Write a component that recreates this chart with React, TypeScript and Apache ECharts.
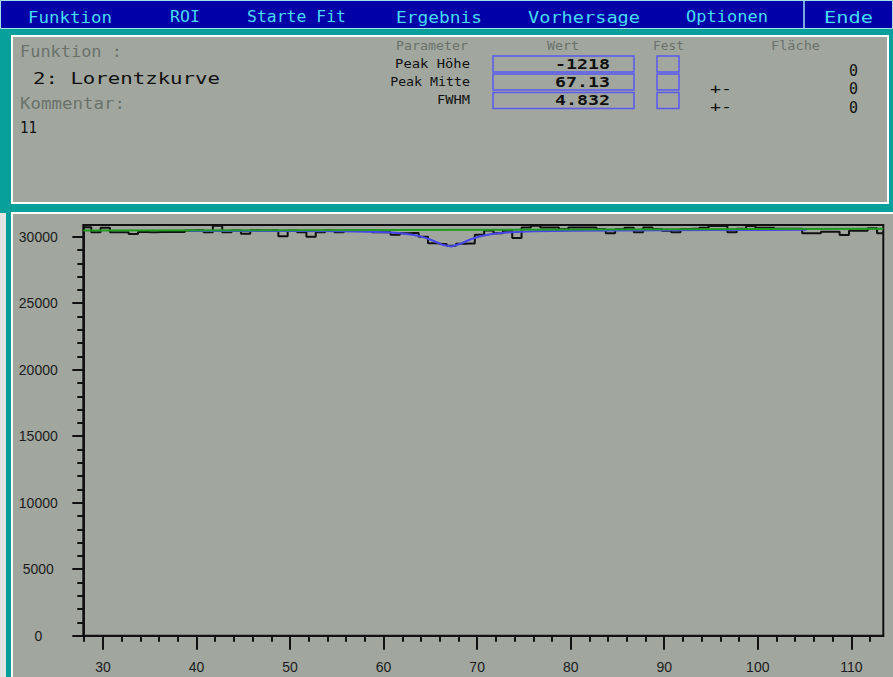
import React, { useEffect, useRef } from "react";
import * as echarts from "echarts";

// ---- spectrum data -------------------------------------------------------
// counts per channel, starting at channel 28
const firstChannel = 28;
const channelCounts = [
  30720, 30330, 30680, 30330, 30330, 30200, 30350, 30340, 30355, 30345, // 28-37
  30350, 30470, 30480, 30340, 30820, 30330, 30470, 30220, 30480, 30460, // 38-47
  30490, 30030, 30470, 30330, 30000, 30330, 30480, 30330, 30470, 30490, // 48-57
  30460, 30330, 30330, 30140, 30260, 30280, 30000, 29500, 29450, 29320, // 58-67
  29470, 29480, 30140, 30460, 30260, 30450, 29900, 30690, 30830, 30690, // 68-77
  30690, 30560, 30700, 30700, 30690, 30560, 30260, 30560, 30680, 30340, // 78-87
  30690, 30570, 30450, 30330, 30580, 30590, 30680, 30810, 30800, 30330, // 88-97
  30590, 30800, 30680, 30680, 30590, 30600, 30600, 30260, 30260, 30380, // 98-107
  30380, 30130, 30450, 30450, 30630, 30260, // 108-113
];
// channel centres sit a quarter channel to the right of the integer
const binOffset = 0.25;

// Lorentz fit over the ROI (fit background + peak)
const fitChannels = [
  39, 45, 50, 55, 58, 59, 60, 61, 62, 63, 64, 65, 66, 67, 68, 69, 70, 71, 72,
  73, 74, 75, 76, 78, 80, 85, 90, 95, 100, 105,
];
const fitCounts = [
  30431, 30432, 30429, 30411, 30379, 30359, 30331, 30290, 30228, 30129, 29967,
  29712, 29398, 29259, 29472, 29788, 30020, 30166, 30258, 30317, 30356, 30384,
  30404, 30432, 30449, 30474, 30488, 30498, 30506, 30514,
];

// linear background across the whole range (left, right)
const backgroundCounts = [30460, 30590];

// fit parameters
const paramNames = ["Peak Höhe", "Peak Mitte", "FWHM"];
const paramValues = ["-1218", "67.13", "4.832"];
const areaValues = ["0", "0", "0"];

// axis ticks
const xMajorTicks = [30, 40, 50, 60, 70, 80, 90, 100, 110];
const xMinorTicks = [
  28, 32, 34, 36, 38, 42, 44, 46, 48, 52, 54, 56, 58, 62, 64, 66, 68, 72, 74,
  76, 78, 82, 84, 86, 88, 92, 94, 96, 98, 102, 104, 106, 108, 112,
];
const yMajorTicks = [0, 5000, 10000, 15000, 20000, 25000, 30000];
const yMinorTicks = [
  1000, 2000, 3000, 4000, 6000, 7000, 8000, 9000, 11000, 12000, 13000, 14000,
  16000, 17000, 18000, 19000, 21000, 22000, 23000, 24000, 26000, 27000, 28000,
  29000,
];

const menuItems = ["Funktion", "ROI", "Starte Fit", "Ergebnis", "Vorhersage", "Optionen", "Ende"];

// ---- layout & style --------------------------------------------------------
const W = 893;
const H = 677;
const X_MIN = 27.9;
const X_MAX = 113.42;
const Y_MAX = 30880;
const TEAL = "#07a09b";
const GREY = "#a1a79f";
const MENU_BLUE = "#0000a8";
const MENU_TEXT = "#48dcf4";
const DIM_TEXT = "#6b726b";
const INK = "#101010";
const BOX_BLUE = "#5a5af0";
const MONO = '"DejaVu Sans Mono", "Liberation Mono", monospace';
const SANS = '"Liberation Sans", Arial, sans-serif';

const menuSpans = [
  [28, 112], [170, 200], [247, 346], [396, 482], [528, 640], [686, 768], [824, 873],
];

type TextOpts = { color?: string; align?: string; weight?: string };

// monospace text stretched horizontally to a given width
function monoText(text: string, x: number, y: number, size: number, width: number | null, opts: TextOpts = {}) {
  const natural = text.length * 0.602 * size;
  return {
    type: "text",
    x,
    y,
    silent: true,
    scaleX: width ? width / natural : 1,
    style: {
      text,
      fontFamily: MONO,
      fontSize: size,
      fontWeight: opts.weight || "normal",
      fill: opts.color || INK,
      align: opts.align || "left",
      verticalAlign: "middle",
    },
  };
}

function buildGraphic() {
  const els: any[] = [];
  // frame
  els.push({ type: "rect", silent: true, shape: { x: 0, y: 29, width: W, height: 184 }, style: { fill: TEAL } });
  els.push({ type: "rect", silent: true, shape: { x: 0, y: 213, width: 11, height: H - 213 }, style: { fill: TEAL } });
  els.push({ type: "rect", silent: true, shape: { x: 0, y: 213, width: 6, height: H - 213 }, style: { fill: "#e2e6e2" } });
  els.push({
    type: "rect", silent: true,
    shape: { x: 12, y: 36, width: 876, height: 167 },
    style: { fill: GREY, stroke: "#ffffff", lineWidth: 2 },
  });
  els.push({
    type: "polyline", silent: true,
    shape: { points: [[12, H], [12, 213], [W, 213]] },
    style: { stroke: "#ffffff", lineWidth: 2, fill: "none" },
  });

  // menu bar
  els.push({
    type: "rect", silent: true,
    shape: { x: 0.5, y: 0.5, width: W - 1, height: 28 },
    style: { fill: MENU_BLUE, stroke: "#9fe2ec", lineWidth: 1 },
  });
  els.push({
    type: "line", silent: true,
    shape: { x1: 804, y1: 1, x2: 804, y2: 28 },
    style: { stroke: "#9fe2ec", lineWidth: 1.5 },
  });
  menuItems.forEach((m, i) => {
    const [a, b] = menuSpans[i];
    els.push(monoText(m, a, 17, 16, b - a, { color: MENU_TEXT }));
  });

  // function / comment block
  els.push(monoText("Funktion :", 20, 52, 16, 102, { color: DIM_TEXT }));
  els.push(monoText("2: Lorentzkurve", 33, 78, 16, 187));
  els.push(monoText("Kommentar:", 20, 103, 16, 105, { color: DIM_TEXT }));
  els.push(monoText("11", 20, 128, 16, 17));

  // parameter table headers
  els.push(monoText("Parameter", 396, 45.5, 12.5, 72, { color: DIM_TEXT }));
  els.push(monoText("Wert", 547, 45.5, 12.5, 32, { color: DIM_TEXT }));
  els.push(monoText("Fest", 653, 45.5, 12.5, 31, { color: DIM_TEXT }));
  els.push(monoText("Fläche", 771, 45.5, 12.5, 49, { color: DIM_TEXT }));

  const rowY = [63.5, 81.5, 100];
  const nameW = [75, 80, 33];
  paramNames.forEach((n, i) => {
    els.push(monoText(n, 470, rowY[i], 12.5, nameW[i], { align: "right" }));
    els.push({
      type: "rect", silent: true,
      shape: { x: 493, y: rowY[i] - 7.5, width: 141, height: 16 },
      style: { fill: "none", stroke: BOX_BLUE, lineWidth: 1.5 },
    });
    els.push({
      type: "rect", silent: true,
      shape: { x: 657, y: rowY[i] - 7.5, width: 22, height: 16 },
      style: { fill: "none", stroke: BOX_BLUE, lineWidth: 1.5 },
    });
    els.push(monoText(paramValues[i], 610, rowY[i] + 0.5, 14, paramValues[i].length * 11, { align: "right", weight: "bold" }));
  });
  const errY = [71, 89, 107.5];
  areaValues.forEach((v, i) => {
    els.push(monoText(v, 849, errY[i], 15, 9));
    if (i > 0) els.push(monoText("+-", 710, errY[i], 14, 22));
  });
  return els;
}

function buildOption() {
  const histogram: number[][] = channelCounts.map((v, i) => [firstChannel + i + binOffset, v]);
  histogram.unshift([X_MIN, channelCounts[0]]);
  histogram.push([X_MAX, channelCounts[channelCounts.length - 1]]);
  const fit = fitChannels.map((c, i) => [c + binOffset, fitCounts[i]]);
  const background = [[X_MIN, backgroundCounts[0]], [X_MAX, backgroundCounts[1]]];

  const axisInk = { color: "#111", width: 2 };
  const labelStyle = { fontFamily: SANS, fontSize: 14, color: "#1c1c1c" };

  return {
    animation: false,
    backgroundColor: GREY,
    graphic: { elements: buildGraphic() },
    grid: {
      left: 83.3,
      top: 225,
      width: 800,
      height: 410.7,
      show: true,
      borderColor: "#111",
      borderWidth: 2,
      backgroundColor: "transparent",
    },
    xAxis: [
      {
        type: "value",
        min: X_MIN,
        max: X_MAX,
        position: "bottom",
        axisLine: { show: true, onZero: false, lineStyle: axisInk },
        axisTick: { show: true, customValues: xMajorTicks, length: 14, lineStyle: axisInk },
        axisLabel: { customValues: xMajorTicks, margin: 24, formatter: (v: number) => String(v), ...labelStyle },
        splitLine: { show: false },
      },
      {
        type: "value",
        min: X_MIN,
        max: X_MAX,
        position: "bottom",
        axisLine: { show: false, onZero: false },
        axisTick: { show: true, customValues: xMinorTicks, length: 6, lineStyle: axisInk },
        axisLabel: { show: false },
        splitLine: { show: false },
      },
    ],
    yAxis: [
      {
        type: "value",
        min: 0,
        max: Y_MAX,
        position: "left",
        axisLine: { show: true, onZero: false, lineStyle: axisInk },
        axisTick: { show: true, customValues: yMajorTicks, length: 11, lineStyle: axisInk },
        axisLabel: {
          customValues: yMajorTicks,
          margin: 45,
          align: "center",
          formatter: (v: number) => String(v),
          ...labelStyle,
        },
        splitLine: { show: false },
      },
      {
        type: "value",
        min: 0,
        max: Y_MAX,
        position: "left",
        axisLine: { show: false, onZero: false },
        axisTick: { show: true, customValues: yMinorTicks, length: 6, lineStyle: axisInk },
        axisLabel: { show: false },
        splitLine: { show: false },
      },
    ],
    series: [
      {
        name: "Spektrum",
        type: "line",
        step: "middle",
        data: histogram,
        symbol: "none",
        z: 2,
        lineStyle: { color: "#111", width: 2 },
      },
      {
        name: "Fit",
        type: "line",
        data: fit,
        symbol: "none",
        z: 3,
        lineStyle: { color: "#4646ec", width: 2 },
      },
      {
        name: "Untergrund",
        type: "line",
        data: background,
        symbol: "none",
        z: 4,
        lineStyle: { color: "#1f9c1f", width: 2 },
      },
    ],
  };
}

export default function App() {
  const ref = useRef<HTMLDivElement>(null);
  useEffect(() => {
    if (!ref.current) return;
    const chart = echarts.init(ref.current, null, { renderer: "svg", width: W, height: H });
    chart.setOption(buildOption() as any);
    return () => chart.dispose();
  }, []);
  return (
    <div
      ref={ref}
      style={{ position: "fixed", left: 0, top: 0, width: W, height: H, overflow: "hidden" }}
    />
  );
}
